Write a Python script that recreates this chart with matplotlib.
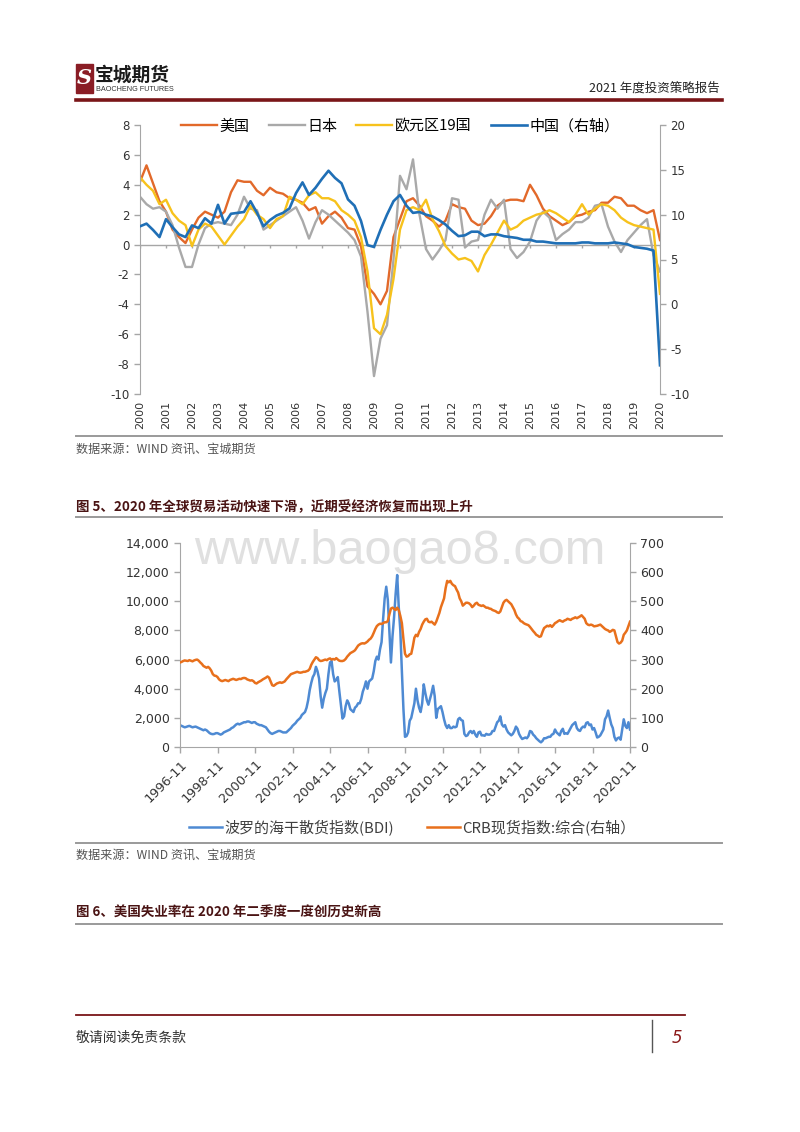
import numpy as np
import pandas as pd
import matplotlib
matplotlib.use('Agg')
from matplotlib import pyplot as plt
from matplotlib.patches import Rectangle
from matplotlib.lines import Line2D
from matplotlib.ticker import FuncFormatter

CJK = ['Noto Sans CJK SC', 'DejaVu Sans']
plt.rcParams['axes.unicode_minus'] = False

# ---- chart 1: real GDP yoy (%), quarterly 2000Q1 - 2020Q1
quarters = pd.period_range('2000Q1', '2020Q1', freq='Q')
gdp_us = [4.2, 5.3, 4.1, 2.9, 2.2, 1.0, 0.5, 0.1, 1.0, 1.8, 2.2, 2.0,
          1.8, 2.2, 3.5, 4.3, 4.2, 4.2, 3.6, 3.3, 3.8, 3.5, 3.4, 3.1,
          3.0, 2.8, 2.3, 2.5, 1.4, 1.9, 2.2, 1.8, 1.1, 1.0, -0.1, -2.8,
          -3.3, -4.0, -3.1, 0.5, 1.7, 2.9, 3.1, 2.6, 1.9, 1.6, 1.2, 1.6,
          2.7, 2.5, 2.4, 1.6, 1.3, 1.4, 1.9, 2.6, 2.9, 3.0, 3.0, 2.9,
          4.0, 3.3, 2.4, 1.9, 1.6, 1.3, 1.5, 1.9, 2.0, 2.2, 2.3, 2.8,
          2.8, 3.2, 3.1, 2.6, 2.6, 2.3, 2.1, 2.3, 0.3]
gdp_jp = [3.2, 2.7, 2.4, 2.5, 2.2, 1.3, -0.2, -1.5, -1.5, 0.0, 1.1, 1.4,
          1.5, 1.4, 1.3, 2.0, 3.2, 2.4, 2.3, 1.0, 1.3, 1.6, 1.9, 2.2,
          2.5, 1.6, 0.4, 1.5, 2.3, 2.0, 1.6, 1.2, 0.8, 0.3, -0.8, -4.5,
          -8.8, -6.3, -5.4, -1.0, 4.6, 3.7, 5.7, 2.0, -0.3, -1.0, -0.4, 0.3,
          3.1, 3.0, -0.2, 0.2, 0.3, 2.0, 3.0, 2.4, 3.0, -0.3, -0.9, -0.5,
          0.2, 1.6, 2.2, 1.8, 0.3, 0.7, 1.0, 1.5, 1.5, 1.8, 2.6, 2.7,
          1.2, 0.2, -0.5, 0.3, 0.8, 1.3, 1.7, -0.7, -1.8]
gdp_ez = [4.5, 4.0, 3.6, 2.7, 3.0, 2.1, 1.6, 1.3, -0.1, 1.0, 1.4, 1.2,
          0.6, 0.0, 0.6, 1.2, 1.7, 2.6, 2.0, 1.7, 1.1, 1.7, 1.9, 3.2,
          3.0, 2.7, 3.3, 3.5, 3.1, 3.1, 2.9, 2.3, 2.0, 1.6, 0.5, -1.8,
          -5.6, -6.0, -4.7, -2.3, 1.0, 2.3, 2.5, 2.3, 3.0, 1.7, 0.9, -0.1,
          -0.6, -1.0, -0.9, -1.1, -1.8, -0.7, 0.0, 0.8, 1.6, 1.0, 1.2, 1.6,
          1.8, 2.0, 2.1, 2.3, 2.1, 1.8, 1.5, 2.0, 2.7, 2.0, 2.4, 2.7,
          2.6, 2.3, 1.8, 1.5, 1.3, 1.2, 1.1, 1.0, -3.3]
gdp_cn = [8.7, 9.0, 8.3, 7.5, 9.5, 8.6, 7.8, 7.5, 8.8, 8.5, 9.6, 9.0,
          11.1, 9.0, 10.1, 10.2, 10.3, 11.5, 10.2, 8.7, 9.4, 9.9, 10.2, 10.7,
          12.4, 13.6, 12.2, 13.0, 14.0, 14.9, 14.1, 13.5, 11.7, 11.0, 9.3, 6.6,
          6.4, 8.3, 10.0, 11.5, 12.2, 11.0, 10.2, 10.3, 10.0, 9.8, 9.4, 8.9,
          8.2, 7.6, 7.7, 8.1, 8.1, 7.6, 7.8, 7.8, 7.6, 7.5, 7.4, 7.2,
          7.2, 7.0, 7.0, 6.9, 6.8, 6.8, 6.8, 6.8, 6.9, 6.9, 6.8, 6.8,
          6.8, 6.9, 6.8, 6.7, 6.4, 6.3, 6.2, 6.0, -6.8]
names1 = ['美国', '日本', '欧元区19国', '中国（右轴）']
years1 = list(range(2000, 2021))

# ---- chart 2: BDI and CRB spot index, monthly 1996-11 - 2020-11
months = pd.period_range('1996-11', '2020-11', freq='M')
bdi = [1500, 1450,
       1400, 1350, 1380, 1420, 1450, 1400, 1350, 1380, 1400, 1350, 1300, 1250,
       1200, 1150, 1200, 1150, 1050, 950, 900, 880, 900, 950, 950, 900,
       850, 900, 1000, 1050, 1100, 1150, 1200, 1300, 1350, 1450, 1550, 1600,
       1550, 1600, 1650, 1700, 1700, 1750, 1750, 1700, 1650, 1700, 1700, 1600,
       1550, 1500, 1500, 1450, 1400, 1350, 1200, 1050, 950, 900, 950, 1000,
       1050, 1100, 1100, 1050, 1000, 1000, 1000, 1100, 1200, 1300, 1450, 1550,
       1650, 1800, 1900, 2000, 2200, 2300, 2400, 2700, 3200, 3900, 4400, 4800,
       5000, 5500, 5200, 4700, 3500, 2700, 3300, 3700, 4000, 5000, 5800, 5900,
       5000, 4500, 4600, 4800, 3800, 2900, 1950, 2100, 2800, 3200, 3000, 2600,
       2500, 2400, 2700, 2800, 3000, 3000, 3300, 3800, 4100, 4500, 4000, 4500,
       4600, 4700, 5200, 5900, 6200, 6000, 6700, 7200, 8800, 10200, 11000, 10100,
       8000, 5800, 7600, 8900, 10500, 11800, 9600, 8000, 5200, 2600, 700, 750,
       1000, 1800, 2000, 2500, 3000, 4000, 3200, 2700, 2400, 3000, 4300, 3700,
       3200, 2900, 3300, 3700, 4200, 3500, 2000, 2600, 2700, 2800, 2400, 1900,
       1500, 1300, 1500, 1300, 1300, 1400, 1350, 1400, 1900, 2000, 1850, 1800,
       900, 750, 800, 1000, 1100, 950, 1100, 850, 700, 1000, 1050, 800,
       800, 770, 900, 850, 850, 900, 1100, 1100, 1400, 1700, 1800, 2100,
       1550, 1400, 1500, 1200, 1000, 900, 800, 900, 1100, 1400, 1250, 900,
       700, 550, 600, 650, 600, 750, 1100, 1050, 850, 750, 600, 500,
       400, 320, 420, 600, 600, 650, 700, 700, 850, 900, 1200, 1000,
       900, 800, 1100, 1250, 900, 950, 900, 1100, 1300, 1500, 1600, 1700,
       1300, 1150, 1100, 1300, 1400, 1350, 1650, 1700, 1500, 1550, 1200, 1300,
       1000, 650, 700, 800, 1000, 1200, 1900, 2100, 2500, 2000, 1550, 1300,
       700, 450, 600, 650, 500, 1200, 1900, 1450, 1300, 1700, 1200]
crb = [290, 292,
       295, 297, 296, 295, 298, 296, 294, 297, 299, 300, 296, 290,
       285, 278, 275, 272, 275, 270, 262, 250, 245, 244, 240, 232,
       228, 226, 228, 230, 228, 226, 230, 232, 234, 232, 230, 232,
       234, 233, 236, 237, 236, 232, 230, 228, 229, 226, 220, 218,
       222, 225, 228, 232, 235, 238, 242, 238, 225, 212, 210, 214,
       218, 220, 222, 220, 222, 225, 232, 238, 244, 250, 252, 254,
       256, 258, 256, 255, 256, 258, 258, 260, 262, 268, 282, 292,
       300, 308, 305, 298, 295, 296, 298, 300, 298, 302, 304, 300,
       302, 300, 305, 300, 296, 295, 295, 297, 302, 310, 316, 322,
       325, 328, 332, 340, 348, 352, 355, 356, 355, 358, 362, 368,
       372, 380, 392, 405, 415, 420, 423, 422, 425, 428, 428, 432,
       455, 475, 478, 474, 470, 478, 470, 450, 425, 370, 320, 310,
       312, 318, 320, 345, 375, 385, 380, 395, 405, 420, 430, 438,
       440, 430, 428, 430, 425, 420, 430, 445, 460, 480, 495, 510,
       545, 570, 565, 570, 560, 555, 552, 540, 530, 510, 500, 485,
       490, 495, 495, 493, 488, 480, 485, 492, 495, 488, 486, 484,
       486, 482, 478, 478, 475, 474, 470, 468, 466, 462, 460, 465,
       480, 495, 502, 505, 500, 495, 490, 480, 470, 455, 445, 440,
       432, 430, 425, 422, 420, 418, 412, 405, 398, 392, 385, 382,
       378, 380, 395, 408, 412, 416, 414, 418, 412, 418, 425, 428,
       432, 435, 432, 430, 434, 436, 440, 438, 436, 440, 442, 445,
       442, 445, 448, 452, 446, 440, 425, 420, 418, 420, 418, 414,
       415, 416, 418, 420, 415, 410, 405, 402, 400, 395, 398, 402,
       400, 380, 360, 355, 358, 365, 385, 392, 400, 415, 430]
names2 = ['波罗的海干散货指数(BDI)', 'CRB现货指数:综合(右轴）']

W, H = 800, 1132
fig = plt.figure(figsize=(W / 100, H / 100), dpi=100)


def fx(x):
    return x / W


def fy(y):
    return 1 - y / H


def box(x0, y0, x1, y1):
    return [fx(x0), fy(y1), (x1 - x0) / W, (y1 - y0) / H]


def hline(y, x0, x1, color, lw):
    fig.add_artist(Line2D([fx(x0), fx(x1)], [fy(y), fy(y)], color=color, lw=lw))


GRAY = '#a6a6a6'
MAROON = '#7a1518'

# ---- page header
fig.add_artist(Rectangle((fx(76), fy(93)), 17 / W, 29 / H, color='#8a1d25'))
fig.text(fx(84.5), fy(78), 'S', color='white', fontsize=15, fontweight='bold',
         fontstyle='italic', family='DejaVu Serif', ha='center', va='center')
fig.text(fx(95), fy(75), '宝城期货', fontsize=13.5, fontweight='bold', family=CJK,
         color='#1a1a1a', ha='left', va='center')
fig.text(fx(96), fy(89.5), 'BAOCHENG FUTURES', fontsize=5.2, family='Liberation Sans',
         color='#333333', ha='left', va='center')
fig.text(fx(720), fy(88), '2021 年度投资策略报告', fontsize=9, family=CJK,
         color='#222222', ha='right', va='center')
hline(99.5, 76, 722, MAROON, 2.6)

# ---- chart 1
x1 = [p.year + (p.quarter - 1) / 4 for p in quarters]
ax1 = fig.add_axes(box(140, 125, 660, 394))
ax1.plot(x1, gdp_us, color='#e2692a', lw=1.7, label=names1[0])
ax1.plot(x1, gdp_jp, color='#a9a9a9', lw=1.7, label=names1[1])
ax1.plot(x1, gdp_ez, color='#f7c21c', lw=1.7, label=names1[2])
ax1.set_xlim(2000, 2020)
ax1.set_ylim(-10, 8)
ax1.set_yticks(range(-10, 9, 2))
ax1.axhline(0, color=GRAY, lw=1, zorder=1)
ax1.vlines(years1, -0.25, 0, color=GRAY, lw=1, zorder=1)
ax1.set_xticks(years1)
ax1.set_xticklabels([str(y) for y in years1], rotation=90, fontsize=8, color='#333333')
ax1.tick_params(axis='x', length=0, pad=5)
ax1.tick_params(axis='y', labelsize=8.5, colors='#333333', length=4, color=GRAY, width=1)
for s in ['top', 'bottom', 'right']:
    ax1.spines[s].set_visible(False)
ax1.spines['left'].set_color(GRAY)

ax1r = ax1.twinx()
ax1r.plot(x1, gdp_cn, color='#1f6fb6', lw=1.9, label=names1[3])
ax1r.set_ylim(-10, 20)
ax1r.set_yticks(range(-10, 21, 5))
ax1r.tick_params(axis='y', labelsize=8.5, colors='#333333', length=4, color=GRAY, width=1)
for s in ['top', 'bottom', 'left']:
    ax1r.spines[s].set_visible(False)
ax1r.spines['right'].set_color(GRAY)

h1 = ax1.get_lines()[:3] + ax1r.get_lines()
ax1r.legend(h1, names1, loc='center', bbox_to_anchor=(0.5, 0.995), ncol=4,
            frameon=False, prop={'family': CJK, 'size': 10.8}, handlelength=2.4,
            columnspacing=1.3, handletextpad=0.15)

# ---- between charts
hline(436, 76, 722, '#9a9a9a', 1.4)
fig.text(fx(76), fy(449), '数据来源：WIND 资讯、宝城期货', fontsize=8.7, family=CJK,
         color='#555555', ha='left', va='center')
fig.text(fx(76), fy(507), '图 5、2020 年全球贸易活动快速下滑，近期受经济恢复而出现上升',
         fontsize=9.7, fontweight='bold', family=CJK, color='#4a1414', ha='left', va='center')
hline(517.5, 76, 722, '#9a9a9a', 1.4)

# watermark
fig.text(fx(400), fy(551), 'www.baogao8.com', fontsize=35, family='Liberation Sans',
         color='#e0e0e0', ha='center', va='center', zorder=0)

# ---- chart 2
x2 = [p.year + (p.month - 1) / 12 for p in months]
ax2 = fig.add_axes(box(180, 543, 630, 747))
ax2.patch.set_alpha(0)
ax2.plot(x2, bdi, color='#4e8ad3', lw=1.8)
ax2.set_xlim(x2[0], x2[-1])
ax2.set_ylim(0, 14000)
ax2.set_yticks(range(0, 14001, 2000))
ax2.yaxis.set_major_formatter(FuncFormatter(lambda v, p: f'{int(v):,}'))
xt = x2[::24]
ax2.set_xticks(xt)
ax2.set_xticklabels([f'{months[i].year}-11' for i in range(0, len(months), 24)],
                    rotation=45, ha='right', rotation_mode='anchor', fontsize=9.3,
                    color='#333333')
ax2.tick_params(axis='x', length=4, color=GRAY, width=1, pad=4)
ax2.tick_params(axis='y', labelsize=9, colors='#333333', length=4, color=GRAY, width=1)
for s in ['top', 'right']:
    ax2.spines[s].set_visible(False)
ax2.spines['left'].set_color(GRAY)
ax2.spines['bottom'].set_color(GRAY)

ax2r = ax2.twinx()
ax2r.plot(x2, crb, color='#e8701c', lw=1.8)
ax2r.set_ylim(0, 700)
ax2r.set_yticks(range(0, 701, 100))
ax2r.tick_params(axis='y', labelsize=9, colors='#333333', length=4, color=GRAY, width=1)
for s in ['top', 'bottom', 'left']:
    ax2r.spines[s].set_visible(False)
ax2r.spines['right'].set_color(GRAY)

h2 = ax2.get_lines() + ax2r.get_lines()
fig.legend(h2, names2, loc='center', bbox_to_anchor=(fx(412), fy(827)), ncol=2,
           frameon=False, prop={'family': CJK, 'size': 10.8}, handlelength=2.2,
           columnspacing=2.2, handletextpad=0.15, labelcolor='#404040')

hline(843, 76, 722, '#9a9a9a', 1.4)
fig.text(fx(76), fy(855), '数据来源：WIND 资讯、宝城期货', fontsize=8.7, family=CJK,
         color='#555555', ha='left', va='center')
fig.text(fx(76), fy(913), '图 6、美国失业率在 2020 年二季度一度创历史新高',
         fontsize=9.7, fontweight='bold', family=CJK, color='#4a1414', ha='left', va='center')
hline(924, 76, 722, '#9a9a9a', 1.4)

# ---- footer
hline(1015, 76, 685, MAROON, 1.3)
fig.add_artist(Line2D([fx(652), fx(652)], [fy(1020), fy(1052)], color='#555555', lw=1))
fig.text(fx(76), fy(1038), '敬请阅读免责条款', fontsize=10, family=CJK,
         color='#333333', ha='left', va='center')
fig.text(fx(677), fy(1038), '5', fontsize=12, fontstyle='italic', color='#8b1a1a',
         ha='center', va='center')

fig.savefig('out.png', dpi=100)
